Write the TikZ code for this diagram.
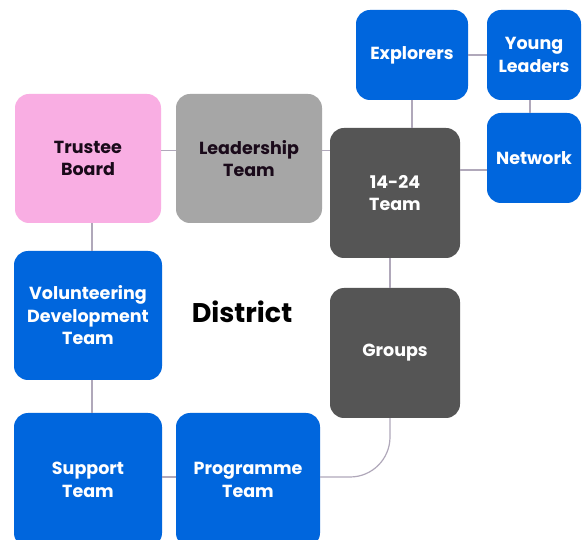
\documentclass[tikz,border=0pt]{standalone}
\usepackage{fontspec}
\setmainfont{Poppins}
\usetikzlibrary{calc}
\definecolor{sblue}{HTML}{0066DD}
\definecolor{spink}{HTML}{F9AEE3}
\definecolor{slgray}{HTML}{A6A6A6}
\definecolor{sdgray}{HTML}{555555}
\definecolor{sline}{HTML}{B0A8BA}
\definecolor{sdark}{HTML}{1A0A1A}
\tikzset{
  box/.style={rectangle, rounded corners=14pt, inner sep=0pt, align=center,
    font=\fontsize{17.5}{22.5}\selectfont\bfseries},
  bluebox/.style={box, fill=sblue, text=white},
  pinkbox/.style={box, fill=spink, text=sdark},
  lgraybox/.style={box, fill=slgray, text=sdark},
  dgraybox/.style={box, fill=sdgray, text=white},
  link/.style={draw=sline, line width=1.2pt},
}
\begin{document}
\begin{tikzpicture}[x=1pt,y=-1pt]
\clip (0,0) rectangle (582,540);
\fill[white] (0,0) rectangle (582,540);
\node[pinkbox, minimum width=146pt, minimum height=129pt] (trustee) at (88,158.5) {Trustee\\Board};
\node[lgraybox, minimum width=146pt, minimum height=129pt] (lead) at (249,158.5) {Leadership\\Team};
\node[dgraybox, minimum width=130pt, minimum height=130pt] (tt) at (395,193) {14-24\\Team};
\node[bluebox, minimum width=112pt, minimum height=90pt] (expl) at (412,55) {Explorers};
\node[bluebox, minimum width=94pt, minimum height=90pt] (yl) at (534,55) {Young\\Leaders};
\node[bluebox, minimum width=94pt, minimum height=90pt] (net) at (534,158) {Network};
\node[dgraybox, minimum width=130pt, minimum height=130pt] (groups) at (395,353) {Groups};
\node[bluebox, minimum width=148pt, minimum height=129pt] (vol) at (88,315.5) {Volunteering\\Development\\Team};
\node[bluebox, minimum width=148pt, minimum height=134pt] (sup) at (88,480) {Support\\Team};
\node[bluebox, minimum width=144pt, minimum height=134pt] (prog) at (248,480) {Programme\\Team};
\node[font=\fontsize{27}{30}\selectfont\bfseries, text=black] (district) at (242,312) {District};
\draw[link] ([yshift=8pt]trustee.east) -- ([yshift=8pt]lead.west);
\draw[link] ([yshift=8pt]lead.east) -- ([yshift=8pt]lead.east -| tt.west);
\draw[link] ([xshift=4pt]trustee.south) -- ([xshift=4pt]vol.north);
\draw[link] ([xshift=4pt]vol.south) -- ([xshift=4pt]sup.north);
\draw[link] ([yshift=3pt]sup.east) -- ([yshift=3pt]prog.west);
\draw[link] (expl.south) -- (expl.south |- tt.north);
\draw[link] (expl.east) -- (yl.west);
\draw[link] ([xshift=-4pt]yl.south) -- ([xshift=-4pt]net.north);
\draw[link] ([yshift=-12pt]net.west) -- ([yshift=-12pt]net.west -| tt.east);
\draw[link] ([xshift=-5pt]tt.south) -- ([xshift=-5pt]groups.north);
\draw[link, rounded corners=40pt] ([yshift=3pt]prog.east) -| ([xshift=-5pt]groups.south);
\end{tikzpicture}
\end{document}
